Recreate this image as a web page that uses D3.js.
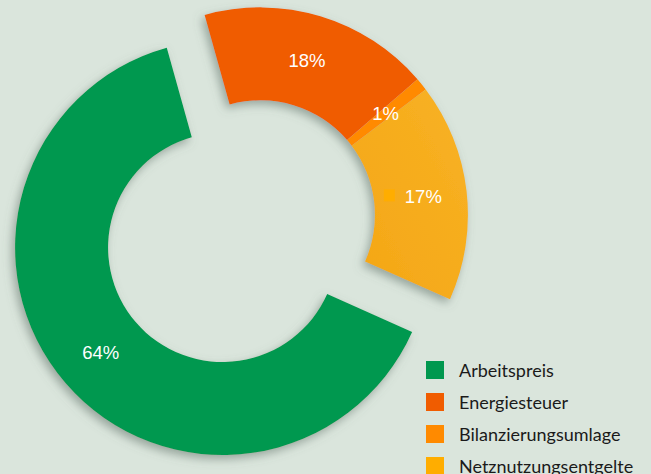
<!DOCTYPE html>
<html>
<head>
<meta charset="utf-8">
<script src="https://cdn.jsdelivr.net/npm/d3@7"></script>
<style>
  html, body { margin: 0; padding: 0; background: #dae5dc; }
  svg { display: block; }
</style>
</head>
<body>
<svg id="chart" width="651" height="474"></svg>
<script>
// ---- data ----
const categories = ["Arbeitspreis", "Energiesteuer", "Bilanzierungsumlage", "Netznutzungsentgelte"];
const values = [64, 18, 1, 17];
const labels = ["64%", "18%", "1%", "17%"];
const colors = ["#00984f", "#f05c00", "#ff8a00", "#f6aa1b"];
const legendColors = ["#00984f", "#f05c00", "#ff8a00", "#ffad00"];
const explodeGroup = [0, 1, 1, 1]; // slices 1-3 are pulled out together

// ---- layout ----
const W = 651, H = 474;
const cx = 241.5, cy = 231.2;
const outerR = 207.5, innerR = 114.5;
const explode = 25;
const startDeg = 114;

const svg = d3.select("#chart");
svg.append("rect").attr("width", W).attr("height", H).attr("fill", "#dae5dc");

const defs = svg.append("defs");
const f = defs.append("filter").attr("id", "shadow")
  .attr("x", "-20%").attr("y", "-20%").attr("width", "140%").attr("height", "140%");
f.append("feDropShadow").attr("dx", -3).attr("dy", 4).attr("stdDeviation", 5)
  .attr("flood-color", "#5e7066").attr("flood-opacity", 0.55);

const grad = defs.append("linearGradient").attr("id", "gNetz")
  .attr("x1", "1").attr("y1", "0").attr("x2", "0").attr("y2", "1");
grad.append("stop").attr("offset", "0%").attr("stop-color", "#f8b224");
grad.append("stop").attr("offset", "100%").attr("stop-color", "#f4a615");

const start = startDeg * Math.PI / 180;
const pie = d3.pie().sort(null).value(d => d)
  .startAngle(start).endAngle(start + 2 * Math.PI);
const arcs = pie(values);

// group mid-angles for explosion
const groupIds = Array.from(new Set(explodeGroup));
const groupOffset = {};
groupIds.forEach(g => {
  const members = arcs.filter((a, i) => explodeGroup[i] === g);
  const s = d3.min(members, a => a.startAngle), e = d3.max(members, a => a.endAngle);
  const mid = (s + e) / 2;
  groupOffset[g] = [Math.sin(mid) * explode, -Math.cos(mid) * explode];
});

const arc = d3.arc().innerRadius(innerR).outerRadius(outerR);

const slicesG = svg.append("g");
groupIds.forEach(g => {
  const off = groupOffset[g];
  const gg = slicesG.append("g")
    .attr("transform", `translate(${cx + off[0]},${cy + off[1]})`)
    .attr("filter", "url(#shadow)");
  gg.selectAll("path")
    .data(arcs.filter((a, i) => explodeGroup[i] === g))
    .join("path")
    .attr("d", arc)
    .attr("fill", d => d.index === 3 ? "url(#gNetz)" : colors[d.index]);
});

// labels
const labelArc = d3.arc().innerRadius(innerR).outerRadius(outerR);
arcs.forEach((a, i) => {
  const off = groupOffset[explodeGroup[i]];
  const c = labelArc.centroid(a);
  const x = cx + off[0] + c[0], y = cy + off[1] + c[1];
  const t = svg.append("text")
    .attr("x", x + (i === 3 ? 3 : 0)).attr("y", y)
    .attr("text-anchor", "middle").attr("dominant-baseline", "central")
    .attr("fill", "#ffffff")
    .attr("font-family", "'Liberation Sans', Arial, sans-serif")
    .attr("font-size", 18.5)
    .text(labels[i]);
  if (i === 3) {
    const bb = t.node().getBBox();
    svg.append("rect")
      .attr("x", bb.x - 21).attr("y", y - 7)
      .attr("width", 11).attr("height", 12)
      .attr("fill", legendColors[3]);
  }
});

// legend
const legend = svg.append("g").attr("transform", "translate(426,361)");
const row = legend.selectAll("g").data(categories).join("g")
  .attr("transform", (d, i) => `translate(0,${i * 32})`);
row.append("rect").attr("width", 18).attr("height", 18)
  .attr("fill", (d, i) => legendColors[i]);
row.append("text").attr("x", 33).attr("y", 9)
  .attr("dominant-baseline", "central")
  .attr("font-family", "Lato, 'Noto Sans', sans-serif")
  .attr("font-size", 18)
  .attr("fill", "#1a1a1a")
  .text(d => d);
</script>
</body>
</html>
